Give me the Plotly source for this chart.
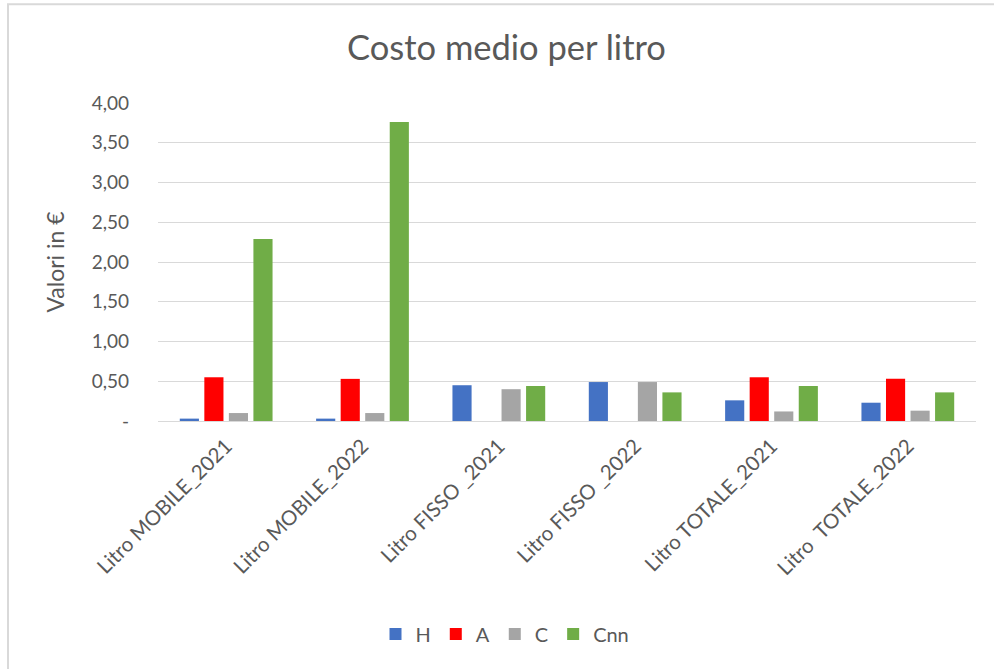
import plotly.graph_objects as go

categories = ["Litro MOBILE_2021", "Litro MOBILE_2022", "Litro FISSO _2021",
              "Litro FISSO _2022", "Litro TOTALE_2021", "Litro  TOTALE_2022"]
H = [0.03, 0.03, 0.45, 0.49, 0.26, 0.23]
A = [0.55, 0.53, 0.0, 0.0, 0.55, 0.53]
C = [0.10, 0.10, 0.40, 0.49, 0.12, 0.13]
Cnn = [2.29, 3.76, 0.44, 0.36, 0.44, 0.36]
series_names = ["H", "A", "C", "Cnn"]
colors = ["#4472C4", "#FF0000", "#A5A5A5", "#70AD47"]
tick_vals = [0, 0.5, 1, 1.5, 2, 2.5, 3, 3.5, 4]
tick_text = ["-", "0,50", "1,00", "1,50", "2,00", "2,50", "3,00", "3,50", "4,00"]

FONT = "Lato"
GREY = "#595959"

fig = go.Figure()
for name, vals, col in zip(series_names, [H, A, C, Cnn], colors):
    fig.add_trace(go.Bar(name=name, x=categories, y=vals, marker_color=col,
                         marker_line_width=0))

W, Hh = 994, 669
L, R, T, B = 158, 18, 103, 248
pw = W - L - R
ph = Hh - T - B

def px_x(px):
    return (px - L) / pw

def px_y(py):
    return (Hh - B - py) / ph

fig.update_layout(
    width=W, height=Hh,
    margin=dict(l=L, r=R, t=T, b=B),
    paper_bgcolor="white", plot_bgcolor="white",
    barmode="group", bargap=0.28, bargroupgap=0.22,
    font=dict(family=FONT, color=GREY, size=19),
    title=dict(text="Costo medio per litro", xref="paper", x=px_x(506.5), xanchor="center",
               y=1 - 48 / Hh, yanchor="middle",
               font=dict(family=FONT, size=34.5, color=GREY)),
    legend=dict(orientation="h", x=px_x(505), xanchor="center", y=px_y(634), yanchor="middle",
                font=dict(family=FONT, size=20, color=GREY), itemwidth=30,
                traceorder="normal"),
    xaxis=dict(tickangle=-45, showgrid=False, showline=False, ticks="",
               ticklabelstandoff=8,
               tickfont=dict(family=FONT, size=20.5, color=GREY)),
    yaxis=dict(range=[0, 4], tickvals=tick_vals, ticktext=tick_text,
               showgrid=True, gridcolor="#D9D9D9", gridwidth=1,
               zeroline=True, zerolinecolor="#D9D9D9", zerolinewidth=1,
               showline=False, ticks="", ticklabelstandoff=28,
               tickfont=dict(family=FONT, size=19, color=GREY),
               title=dict(text="Valori in €", standoff=20,
                          font=dict(family=FONT, size=23, color=GREY))),
    shapes=[
        dict(type="rect", xref="paper", yref="paper",
             x0=px_x(8), x1=px_x(1200), y0=px_y(4.3), y1=px_y(900),
             line=dict(color="#D9D9D9", width=2), fillcolor="rgba(0,0,0,0)",
             layer="below"),
    ],
)

fig.write_html("out.html", config={"displayModeBar": False},
               post_script="document.body.style.margin='0';document.body.style.overflow='hidden';")
